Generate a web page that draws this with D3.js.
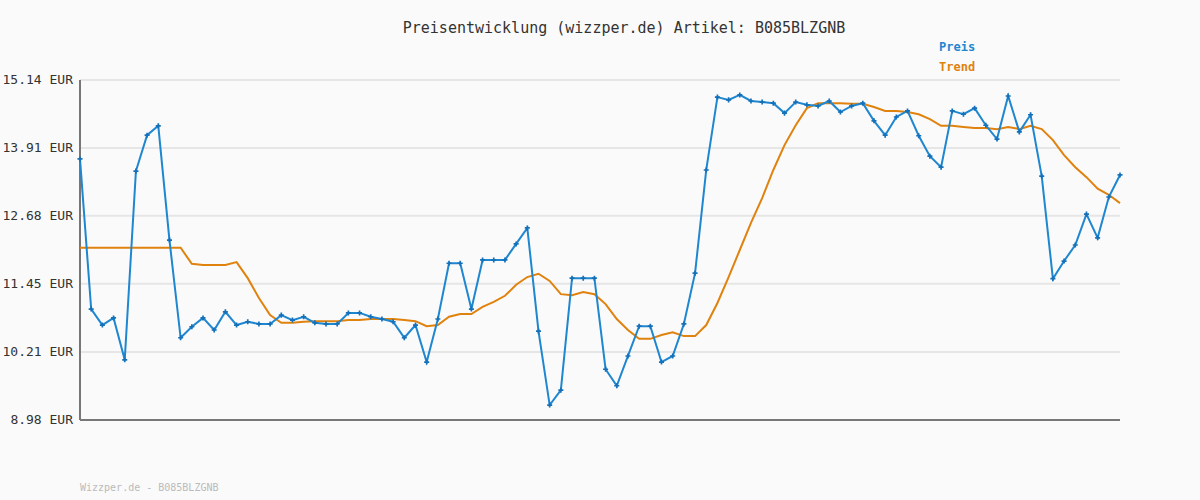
<!DOCTYPE html>
<html><head><meta charset="utf-8">
<script src="https://cdn.jsdelivr.net/npm/d3@7"></script>
<style>body{margin:0;background:#fafafa}text{font-family:"DejaVu Sans Mono",monospace}</style>
</head><body><div id="main"></div>
<script>
var preis = [13.71,10.99,10.70,10.83,10.07,13.49,14.14,14.31,12.24,10.47,10.67,10.83,10.61,10.94,10.70,10.76,10.72,10.72,10.88,10.79,
10.85,10.74,10.72,10.72,10.92,10.92,10.85,10.81,10.76,10.47,10.70,10.03,10.81,11.82,11.82,10.99,11.88,11.88,11.88,12.17,
12.46,10.59,9.25,9.52,11.55,11.55,11.55,9.90,9.60,10.14,10.68,10.68,10.03,10.14,10.72,11.64,13.51,14.83,14.78,14.87,
14.76,14.74,14.72,14.54,14.74,14.69,14.67,14.76,14.56,14.67,14.72,14.40,14.14,14.47,14.58,14.13,13.76,13.56,14.58,14.52,
14.63,14.32,14.07,14.85,14.20,14.51,13.40,11.54,11.86,12.15,12.71,12.28,13.02,13.42]
var trend = [12.10,12.10,12.10,12.10,12.10,12.10,12.10,12.10,12.10,12.10,11.81,11.79,11.79,11.79,11.84,11.55,11.19,10.88,10.74,10.74,
10.76,10.77,10.77,10.77,10.79,10.79,10.81,10.81,10.81,10.79,10.77,10.68,10.70,10.85,10.90,10.90,11.03,11.12,11.23,11.43,
11.57,11.63,11.50,11.26,11.24,11.30,11.26,11.08,10.81,10.61,10.45,10.45,10.52,10.57,10.50,10.50,10.70,11.10,11.57,12.06,
12.55,13.00,13.51,13.96,14.32,14.63,14.72,14.72,14.72,14.71,14.71,14.65,14.58,14.58,14.56,14.52,14.43,14.31,14.31,14.29,
14.27,14.27,14.25,14.29,14.25,14.31,14.25,14.05,13.78,13.56,13.38,13.17,13.06,12.91]
var yTicks = [8.98,10.21,11.45,12.68,13.91,15.14]

var svg = d3.select('#main').append('svg').attr("width",1200).attr("height",500)
svg.append('rect').attr("width",1200).attr("height",500).attr("fill","#fafafa")

var x = d3.scaleLinear().domain([0,preis.length-1]).range([80,1120])
var y = d3.scaleLinear().domain([8.98,15.14]).range([420,80])

svg.selectAll('line.grid').data(yTicks.slice(1)).enter().append('line')
  .attr("class","grid").attr("x1",80).attr("x2",1120)
  .attr("y1",d=>y(d)).attr("y2",d=>y(d))
  .style("stroke","#e6e6e6").style("stroke-width",2)

svg.selectAll('text.yl').data(yTicks).enter().append('text')
  .attr("class","yl").attr("x",73).attr("y",d=>y(d)+4)
  .attr("text-anchor","end").style("font-size","13px").attr("fill","#333")
  .text(d=>d.toFixed(2)+" EUR")

svg.append('line').attr("x1",80).attr("x2",80).attr("y1",80).attr("y2",420).style("stroke","#777").style("stroke-width",2)
svg.append('line').attr("x1",80).attr("x2",1120).attr("y1",420).attr("y2",420).style("stroke","#777").style("stroke-width",2)

var line = d3.line().x((d,i)=>x(i)).y(d=>y(d))
svg.append('path').datum(trend).attr("d",line).attr("fill","none")
  .style("stroke","#e0820e").style("stroke-width",2)
svg.append('path').datum(preis).attr("d",line).attr("fill","none")
  .style("stroke","#1f86d0").style("stroke-width",2)
svg.selectAll('path.pt').data(preis).enter().append('path').attr("class","pt")
  .attr("d",d3.symbol(d3.symbolCross,14))
  .attr("transform",(d,i)=>'translate('+x(i)+','+y(d)+')')
  .attr("fill","#1470b8")

svg.append('text').text("Preisentwicklung (wizzper.de) Artikel: B085BLZGNB")
  .attr("x",624).attr("y",33).attr("text-anchor","middle").style("font-size","15px").attr("fill","#333")
svg.append('text').text("Preis").attr("x",939).attr("y",51).style("font-size","12px").style("font-weight","bold").attr("fill","#1f86d0")
svg.append('text').text("Trend").attr("x",939).attr("y",71).style("font-size","12px").style("font-weight","bold").attr("fill","#e0820e")
svg.append('text').text("Wizzper.de - B085BLZGNB").attr("x",80).attr("y",491).style("font-size","10px").attr("fill","#bbb")
</script></body></html>
